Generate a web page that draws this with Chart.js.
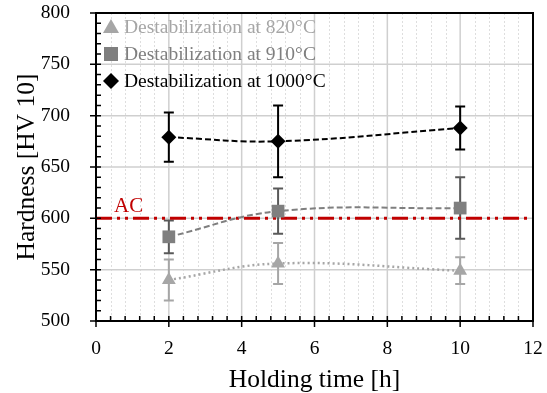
<!DOCTYPE html>
<html>
<head>
<meta charset="utf-8">
<script src="https://cdn.jsdelivr.net/npm/chart.js@4.4.1/dist/chart.umd.min.js"></script>
<style>
  html, body { margin: 0; padding: 0; background: #fff; }
  #wrap { width: 547px; height: 393px; }
</style>
</head>
<body>
<div id="wrap"><canvas id="chart" width="547" height="393"></canvas></div>
<script>
// Holding times [h]
const hours = [2, 5, 10];

// Hardness values [HV 10] and error bar half-widths
const hv820 = [540, 556, 549];
const err820 = [20, 20, 13];
const hv910 = [582, 607, 610];
const err910 = [16, 22, 30];
const hv1000 = [679, 675, 688];
const err1000 = [24, 35, 21];

const acLevel = 600;
const xTicks = [0, 2, 4, 6, 8, 10, 12];
const yTicks = [500, 550, 600, 650, 700, 750, 800];

const seriesLabels = ['Destabilization at 820°C', 'Destabilization at 910°C', 'Destabilization at 1000°C'];
const seriesColors = ['#a6a6a6', '#7f7f7f', '#000000'];
const errColors = ['#a6a6a6', '#595959', '#000000'];
const seriesStyles = ['triangle', 'rect', 'rectRot'];

const SERIF = '"Liberation Serif", "Times New Roman", serif';

const toPts = (ys) => hours.map((h, i) => ({ x: h, y: ys[i] }));

// gridlines, custom ticks, frame, error bars, AC label, legend
const decor = {
  id: 'decor',
  beforeDatasetsDraw(chart) {
    const { ctx, chartArea: a, scales: { x, y } } = chart;
    ctx.save();
    // minor vertical gridlines
    ctx.strokeStyle = '#dedede';
    ctx.lineWidth = 1;
    ctx.setLineDash([2, 2]);
    for (let v = 0.4; v < 12; v += 0.4) {
      if (Math.abs(v / 2 - Math.round(v / 2)) < 0.01) continue;
      const px = Math.round(x.getPixelForValue(v)) + 0.5;
      ctx.beginPath(); ctx.moveTo(px, a.top); ctx.lineTo(px, a.bottom); ctx.stroke();
    }
    ctx.setLineDash([]);
    // major gridlines
    ctx.strokeStyle = '#cfcfcf';
    ctx.lineWidth = 1.5;
    xTicks.forEach(v => {
      const px = x.getPixelForValue(v);
      ctx.beginPath(); ctx.moveTo(px, a.top); ctx.lineTo(px, a.bottom); ctx.stroke();
    });
    yTicks.forEach(v => {
      const py = y.getPixelForValue(v);
      ctx.beginPath(); ctx.moveTo(a.left, py); ctx.lineTo(a.right, py); ctx.stroke();
    });
    // error bars
    const errs = [err820, err910, err1000];
    const vals = [hv820, hv910, hv1000];
    errs.forEach((err, s) => {
      ctx.strokeStyle = errColors[s];
      ctx.lineWidth = 2;
      hours.forEach((h, i) => {
        const px = x.getPixelForValue(h);
        const top = y.getPixelForValue(vals[s][i] + err[i]);
        const bot = y.getPixelForValue(vals[s][i] - err[i]);
        ctx.beginPath();
        ctx.moveTo(px, top); ctx.lineTo(px, bot);
        ctx.moveTo(px - 5, top); ctx.lineTo(px + 5, top);
        ctx.moveTo(px - 5, bot); ctx.lineTo(px + 5, bot);
        ctx.stroke();
      });
    });
    ctx.restore();
  },
  afterDraw(chart) {
    const { ctx, chartArea: a, scales: { x, y } } = chart;
    ctx.save();
    // frame
    ctx.strokeStyle = '#000';
    ctx.lineWidth = 2;
    ctx.strokeRect(a.left, a.top, a.right - a.left, a.bottom - a.top);
    // ticks
    ctx.lineWidth = 1.5;
    ctx.beginPath();
    for (let v = 0; v <= 12.001; v += 0.4) {
      const px = x.getPixelForValue(v);
      const major = Math.abs(v / 2 - Math.round(v / 2)) < 0.01;
      if (major) { ctx.moveTo(px, a.bottom - 5); ctx.lineTo(px, a.bottom + 6); }
      else { ctx.moveTo(px, a.bottom); ctx.lineTo(px, a.bottom - 5); }
    }
    for (let v = 500; v <= 800; v += 10) {
      const py = y.getPixelForValue(v);
      if (v % 50 === 0) { ctx.moveTo(a.left - 6, py); ctx.lineTo(a.left + 5, py); }
      else { ctx.moveTo(a.left, py); ctx.lineTo(a.left + 5, py); }
    }
    ctx.stroke();
    // AC label
    ctx.fillStyle = '#c00000';
    ctx.font = '21px ' + SERIF;
    ctx.textBaseline = 'alphabetic';
    ctx.fillText('AC', x.getPixelForValue(0) + 18, y.getPixelForValue(acLevel) - 6);
    // legend
    ctx.font = '19.5px ' + SERIF;
    ctx.textBaseline = 'middle';
    seriesLabels.forEach((lab, i) => {
      const cy = a.top + 14 + i * 27;
      const cx = a.left + 15;
      ctx.fillStyle = seriesColors[i];
      ctx.beginPath();
      if (i === 0) { ctx.moveTo(cx, cy - 8); ctx.lineTo(cx + 8, cy + 6); ctx.lineTo(cx - 8, cy + 6); ctx.closePath(); }
      else if (i === 1) { ctx.rect(cx - 7, cy - 7, 14, 14); }
      else { ctx.moveTo(cx, cy - 8); ctx.lineTo(cx + 8, cy); ctx.lineTo(cx, cy + 8); ctx.lineTo(cx - 8, cy); ctx.closePath(); }
      ctx.fill();
      ctx.fillText(lab, cx + 13, cy + 1);
    });
    ctx.restore();
  }
};

new Chart(document.getElementById('chart'), {
  type: 'line',
  data: {
    datasets: [
      {
        label: 'AC',
        data: [{ x: 0, y: acLevel }, { x: 12, y: acLevel }],
        borderColor: '#c00000',
        borderWidth: 3,
        borderDash: [16, 5, 3, 5, 3, 5],
        pointRadius: 0,
        order: 5
      },
      {
        label: seriesLabels[0],
        data: toPts(hv820),
        borderColor: seriesColors[0],
        backgroundColor: seriesColors[0],
        borderWidth: 2.5,
        borderDash: [2, 3],
        tension: 0.4,
        pointStyle: seriesStyles[0],
        pointRadius: 8,
        pointBorderWidth: 0
      },
      {
        label: seriesLabels[1],
        data: toPts(hv910),
        borderColor: seriesColors[1],
        backgroundColor: seriesColors[1],
        borderWidth: 2,
        borderDash: [6, 3],
        tension: 0.4,
        pointStyle: seriesStyles[1],
        pointRadius: 9,
        pointBorderWidth: 0
      },
      {
        label: seriesLabels[2],
        data: toPts(hv1000),
        borderColor: seriesColors[2],
        backgroundColor: seriesColors[2],
        borderWidth: 2,
        borderDash: [6, 3],
        tension: 0.4,
        pointStyle: seriesStyles[2],
        pointRadius: 7.5,
        pointBorderWidth: 0
      }
    ]
  },
  options: {
    responsive: false,
    animation: false,
    layout: { padding: { left: 0, right: 14, top: 13, bottom: 0 } },
    plugins: { legend: { display: false }, tooltip: { enabled: false } },
    scales: {
      x: {
        type: 'linear',
        min: 0, max: 12,
        afterBuildTicks: (s) => { s.ticks = xTicks.map(v => ({ value: v })); },
        afterFit: (s) => { s.height = 72; s.paddingLeft = 0; s.paddingRight = 0; },
        grid: { display: false },
        border: { display: false },
        ticks: { color: '#000', padding: 8, font: { family: SERIF, size: 19.5 } },
        title: { display: true, text: 'Holding time [h]', color: '#000', padding: { top: 0, bottom: -3 }, font: { family: SERIF, size: 25.5 } }
      },
      y: {
        min: 500, max: 800,
        afterBuildTicks: (s) => { s.ticks = yTicks.map(v => ({ value: v })); },
        afterFit: (s) => { s.width = 96; s.paddingTop = 0; s.paddingBottom = 0; },
        grid: { display: false },
        border: { display: false },
        ticks: { color: '#000', padding: 18, font: { family: SERIF, size: 19.5 } },
        title: { display: true, text: 'Hardness [HV 10]', color: '#000', padding: { top: 12, bottom: 0 }, font: { family: SERIF, size: 25.5 } }
      }
    }
  },
  plugins: [decor]
});
</script>
</body>
</html>
